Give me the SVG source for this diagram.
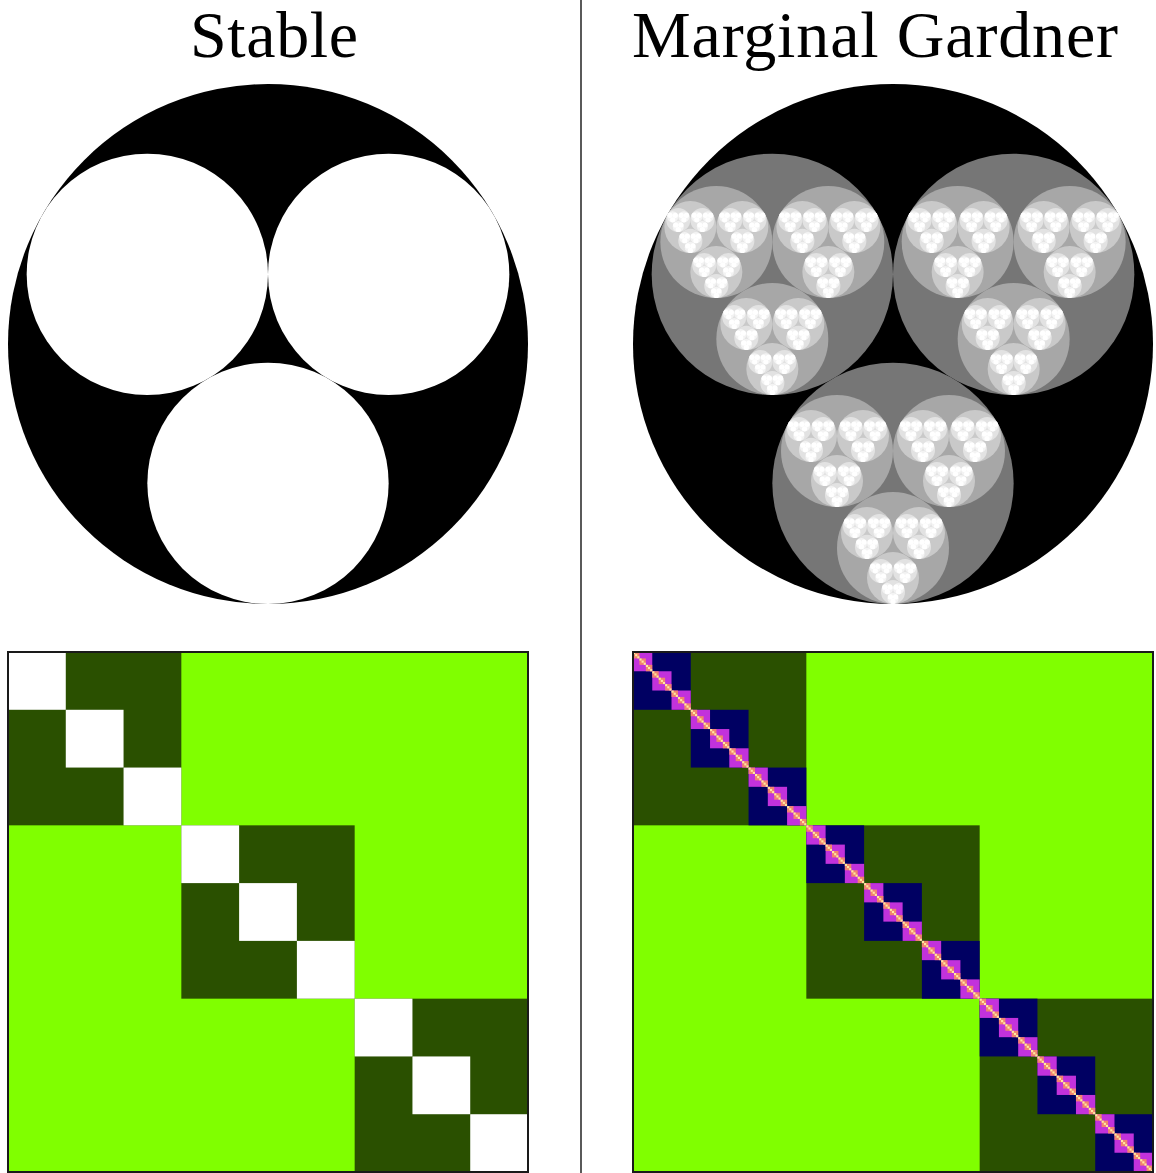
<svg xmlns="http://www.w3.org/2000/svg" width="1156" height="1173" viewBox="0 0 1156 1173">
<style>
.title{font-family:"Liberation Serif","DejaVu Serif",serif;font-size:66px;fill:#000;text-anchor:middle}
.frame{fill:none;stroke:#1a1a1a;stroke-width:2}
</style>
<defs>
<g id="c6"><circle r="1" fill="#ffffff"/></g>
<g id="c5"><circle r="1" fill="#f3f3f3"/>
<use href="#c6" transform="translate(-0.464102,-0.267949) scale(0.464102)"/>
<use href="#c6" transform="translate(0.464102,-0.267949) scale(0.464102)"/>
<use href="#c6" transform="translate(0,0.535898) scale(0.464102)"/></g>
<g id="c4"><circle r="1" fill="#e2e2e2"/>
<use href="#c5" transform="translate(-0.464102,-0.267949) scale(0.464102)"/>
<use href="#c5" transform="translate(0.464102,-0.267949) scale(0.464102)"/>
<use href="#c5" transform="translate(0,0.535898) scale(0.464102)"/></g>
<g id="c3"><circle r="1" fill="#c9c9c9"/>
<use href="#c4" transform="translate(-0.464102,-0.267949) scale(0.464102)"/>
<use href="#c4" transform="translate(0.464102,-0.267949) scale(0.464102)"/>
<use href="#c4" transform="translate(0,0.535898) scale(0.464102)"/></g>
<g id="c2"><circle r="1" fill="#a7a7a7"/>
<use href="#c3" transform="translate(-0.464102,-0.267949) scale(0.464102)"/>
<use href="#c3" transform="translate(0.464102,-0.267949) scale(0.464102)"/>
<use href="#c3" transform="translate(0,0.535898) scale(0.464102)"/></g>
<g id="c1"><circle r="1" fill="#767676"/>
<use href="#c2" transform="translate(-0.464102,-0.267949) scale(0.464102)"/>
<use href="#c2" transform="translate(0.464102,-0.267949) scale(0.464102)"/>
<use href="#c2" transform="translate(0,0.535898) scale(0.464102)"/></g>

<g id="m5"><rect width="1" height="1" fill="#ffe9a0"/></g>
<g id="m4"><rect width="1" height="1" fill="#f2846e"/>
<use href="#m5" transform="scale(0.333333)"/>
<use href="#m5" transform="translate(0.333333,0.333333) scale(0.333333)"/>
<use href="#m5" transform="translate(0.666667,0.666667) scale(0.333333)"/></g>
<g id="m3"><rect width="1" height="1" fill="#c232dc"/>
<use href="#m4" transform="scale(0.333333)"/>
<use href="#m4" transform="translate(0.333333,0.333333) scale(0.333333)"/>
<use href="#m4" transform="translate(0.666667,0.666667) scale(0.333333)"/></g>
<g id="m2"><rect width="1" height="1" fill="#000062"/>
<use href="#m3" transform="scale(0.333333)"/>
<use href="#m3" transform="translate(0.333333,0.333333) scale(0.333333)"/>
<use href="#m3" transform="translate(0.666667,0.666667) scale(0.333333)"/></g>
<g id="m1"><rect width="1" height="1" fill="#2a5000"/>
<use href="#m2" transform="scale(0.333333)"/>
<use href="#m2" transform="translate(0.333333,0.333333) scale(0.333333)"/>
<use href="#m2" transform="translate(0.666667,0.666667) scale(0.333333)"/></g>

<g id="s2"><rect width="1" height="1" fill="#ffffff"/></g>
<g id="s1"><rect width="1" height="1" fill="#2a5000"/>
<use href="#s2" transform="scale(0.333333)"/>
<use href="#s2" transform="translate(0.333333,0.333333) scale(0.333333)"/>
<use href="#s2" transform="translate(0.666667,0.666667) scale(0.333333)"/></g>
</defs>

<rect width="1156" height="1173" fill="#ffffff"/>

<g id="titles">
<text class="title" x="274" y="57" textLength="168">Stable</text>
<text class="title" x="875" y="57" textLength="486">Marginal Gardner</text>
</g>

<line id="divider" x1="581" y1="0" x2="581" y2="1173" stroke="#000" stroke-width="1.3"/>

<g id="stable-circles" transform="translate(268,344) scale(260)">
<circle r="1" fill="#000"/>
<circle cx="-0.464102" cy="-0.267949" r="0.464102" fill="#fff"/>
<circle cx="0.464102" cy="-0.267949" r="0.464102" fill="#fff"/>
<circle cx="0" cy="0.535898" r="0.464102" fill="#fff"/>
</g>

<g id="gardner-circles" transform="translate(893,344) scale(260)">
<circle r="1" fill="#000"/>
<use href="#c1" transform="translate(-0.464102,-0.267949) scale(0.464102)"/>
<use href="#c1" transform="translate(0.464102,-0.267949) scale(0.464102)"/>
<use href="#c1" transform="translate(0,0.535898) scale(0.464102)"/>
</g>

<g id="stable-matrix">
<g transform="translate(8,652) scale(520)">
<rect width="1" height="1" fill="#80ff00"/>
<use href="#s1" transform="scale(0.333333)"/>
<use href="#s1" transform="translate(0.333333,0.333333) scale(0.333333)"/>
<use href="#s1" transform="translate(0.666667,0.666667) scale(0.333333)"/>
</g>
<rect class="frame" x="8" y="652" width="520" height="520"/>
</g>

<g id="gardner-matrix">
<g transform="translate(633,652) scale(520)">
<rect width="1" height="1" fill="#80ff00"/>
<use href="#m1" transform="scale(0.333333)"/>
<use href="#m1" transform="translate(0.333333,0.333333) scale(0.333333)"/>
<use href="#m1" transform="translate(0.666667,0.666667) scale(0.333333)"/>
</g>
<rect class="frame" x="633" y="652" width="520" height="520"/>
</g>
</svg>
